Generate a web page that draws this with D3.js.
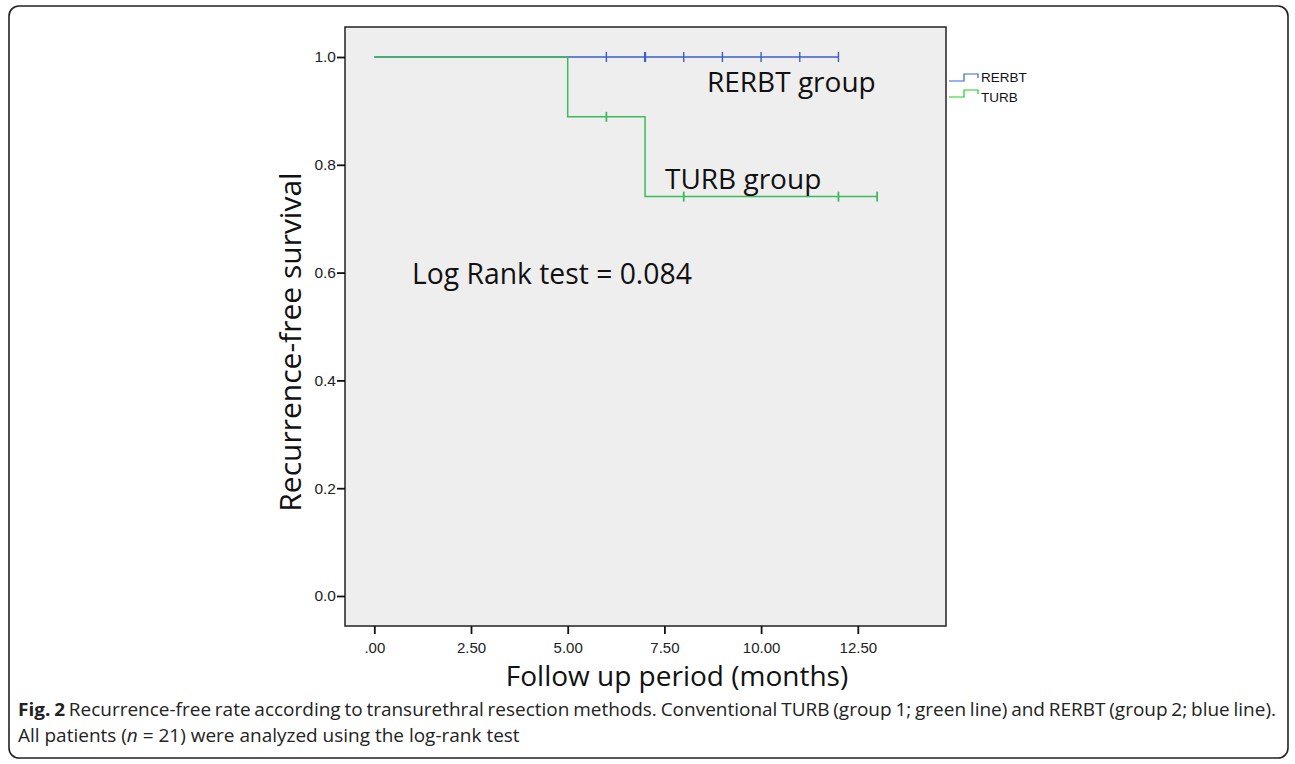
<!DOCTYPE html>
<html><head><meta charset="utf-8">
<script src="https://cdn.jsdelivr.net/npm/d3@7"></script>
<style>body{margin:0;background:#fff}svg{display:block}</style>
</head><body>
<svg id="c" width="1295" height="764"></svg>
<script>
// Data
const xTicks = [0, 2.5, 5, 7.5, 10, 12.5];
const xTickLabels = [".00", "2.50", "5.00", "7.50", "10.00", "12.50"];
const yTicks = [0, 0.2, 0.4, 0.6, 0.8, 1.0];
const yTickLabels = ["0.0", "0.2", "0.4", "0.6", "0.8", "1.0"];
// step curves: [time, survival]
const rerbtSteps = [[0, 1.0], [12, 1.0]];
const rerbtCensored = [6, 7, 8, 9, 10, 11, 12];
const turbSteps = [[0, 1.0], [5, 1.0], [5, 0.889], [7, 0.889], [7, 0.741], [13, 0.741]];
const turbCensored = [[6, 0.889], [8, 0.741], [12, 0.741], [13, 0.741]];
const seriesNames = ["RERBT", "TURB"];
const colors = {RERBT: "#3a5fcd", TURB: "#3dbb5c"};
const legendColors = {RERBT: "#3366dd", TURB: "#22cc22"};

const svg = d3.select("#c");
// outer frame
svg.append("rect").attr("x", 9).attr("y", 6).attr("width", 1279).attr("height", 752)
  .attr("rx", 10).attr("fill", "none").attr("stroke", "#222").attr("stroke-width", 1.6);

const L = 345, R = 946, T = 27, B = 626;
const x = d3.scaleLinear().domain([0, 2.5]).range([374.3, 471]);
const y = d3.scaleLinear().domain([0, 1]).range([596, 57]);

svg.append("rect").attr("x", L).attr("y", T).attr("width", R - L).attr("height", B - T)
  .attr("fill", "#eeeeee").attr("stroke", "#222").attr("stroke-width", 1.5);

const tickFont = "Liberation Sans, Arial, sans-serif";
// axes
const xAxis = d3.axisBottom(x).tickValues(xTicks).tickFormat((d, i) => xTickLabels[i]).tickSize(8).tickSizeOuter(0);
const gx = svg.append("g").attr("transform", `translate(0,${B})`).call(xAxis);
gx.attr("font-size", 15).attr("font-family", tickFont);
gx.select(".domain").remove();
gx.selectAll("line").attr("stroke", "#111").attr("stroke-width", 1.8);
gx.selectAll("text").attr("font-size", 15).attr("fill", "#222").attr("y", 27).attr("dy", null);

const yAxis = d3.axisLeft(y).tickValues(yTicks).tickFormat((d, i) => yTickLabels[i]).tickSize(8).tickSizeOuter(0);
const gy = svg.append("g").attr("transform", `translate(${L},0)`).call(yAxis);
gy.attr("font-size", 15.5).attr("font-family", tickFont);
gy.select(".domain").remove();
gy.selectAll("line").attr("stroke", "#111").attr("stroke-width", 1.8);
gy.selectAll("text").attr("font-size", 15.5).attr("fill", "#222").attr("x", -9);

const line = d3.line().x(d => x(d[0])).y(d => y(d[1]));
// RERBT drawn first (beneath)
svg.append("path").attr("d", line(rerbtSteps)).attr("fill", "none").attr("stroke", colors.RERBT).attr("stroke-width", 1.5);
svg.append("path").attr("d", line(turbSteps)).attr("fill", "none").attr("stroke", colors.TURB).attr("stroke-width", 1.5);

svg.selectAll(".cr").data(rerbtCensored).enter().append("line")
  .attr("x1", d => x(d)).attr("x2", d => x(d)).attr("y1", y(1) - 5).attr("y2", y(1) + 5)
  .attr("stroke", colors.RERBT).attr("stroke-width", (d) => d === 7 ? 2.2 : 1.4);
svg.selectAll(".ct").data(turbCensored).enter().append("line")
  .attr("x1", d => x(d[0])).attr("x2", d => x(d[0])).attr("y1", d => y(d[1]) - 5).attr("y2", d => y(d[1]) + 5)
  .attr("stroke", colors.TURB).attr("stroke-width", 1.8);

// annotations
const ann = "Open Sans, sans-serif";
svg.append("text").attr("x", 707).attr("y", 92).attr("font-family", ann).attr("font-size", 28).attr("fill", "#111").text("RERBT group");
svg.append("text").attr("x", 665).attr("y", 189).attr("font-family", ann).attr("font-size", 28).attr("fill", "#111").text("TURB group");
svg.append("text").attr("x", 412).attr("y", 284).attr("font-family", ann).attr("font-size", 28.3).attr("fill", "#111").text("Log Rank test = 0.084");

// axis titles
svg.append("text").attr("transform", `translate(301,342) rotate(-90)`).attr("text-anchor", "middle")
  .attr("font-family", ann).attr("font-size", 30).attr("fill", "#111").text("Recurrence-free survival");
svg.append("text").attr("x", 677).attr("y", 686).attr("text-anchor", "middle")
  .attr("font-family", ann).attr("font-size", 28).attr("fill", "#111").text("Follow up period (months)");

// legend
seriesNames.forEach((n, i) => {
  const ly = 81 + i * 16;
  const lx = 949;
  svg.append("path").attr("d", `M${lx},${ly} H${lx + 15} V${ly - 7} H${lx + 29} V${ly - 3}`)
    .attr("fill", "none").attr("stroke", legendColors[n]).attr("stroke-width", 1.2);
  svg.append("text").attr("x", lx + 32).attr("y", ly + 1 + i * 4).attr("font-family", tickFont)
    .attr("font-size", 13.5).attr("fill", "#111").text(n);
});

// caption: glyph width from the last line, first line justified
const x0 = 18;
const cap2 = svg.append("text").attr("x", x0).attr("y", 742).attr("font-family", ann).attr("font-size", 18.5).attr("fill", "#222");
cap2.append("tspan").text("All patients (");
cap2.append("tspan").attr("font-style", "italic").text("n");
cap2.append("tspan").text(" = 21) were analyzed using the log-rank test");
const s = 502 / cap2.node().getComputedTextLength();
cap2.attr("transform", `translate(${x0},0) scale(${s},1) translate(${-x0},0)`);

const cap = svg.append("text").attr("x", x0).attr("y", 716).attr("font-family", ann).attr("font-size", 18.5).attr("fill", "#222");
cap.append("tspan").attr("font-weight", "bold").text("Fig. 2");
const rest = " Recurrence-free rate according to transurethral resection methods. Conventional TURB (group 1; green line) and RERBT (group 2; blue line).";
cap.append("tspan").text(rest);
cap.attr("transform", `translate(${x0},0) scale(${s},1) translate(${-x0},0)`);
const w1 = cap.node().getComputedTextLength();
const nSpaces = ("Fig. 2" + rest).split(" ").length - 1;
const extra = (1258 / s - w1) / nSpaces;
cap.style("word-spacing", extra + "px");
const w1b = cap.node().getComputedTextLength();
if (Math.abs(w1b * s - 1258) > 4) {
  cap.style("word-spacing", null).attr("textLength", 1258 / s).attr("lengthAdjust", "spacing");
}
</script>
</body></html>
